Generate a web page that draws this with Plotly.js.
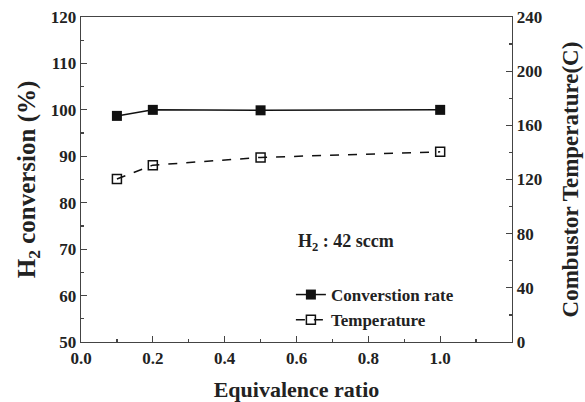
<!DOCTYPE html>
<html><head><meta charset="utf-8">
<script src="https://cdn.plot.ly/plotly-3.0.1.min.js"></script>
<style>html,body{margin:0;padding:0;background:#fff}#c{width:585px;height:402px}</style>
</head><body><div id="c"></div>
<script>
var ratio = [0.1, 0.2, 0.5, 1.0];
var conversion = [98.7, 100.0, 99.9, 100.0];
var temperature = [120.4, 130.6, 136.3, 140.4];
var seriesNames = ["Converstion rate", "Temperature"];
var xTicks = [0.0, 0.2, 0.4, 0.6, 0.8, 1.0];

var F = "Liberation Serif, Times New Roman, serif";
var traces = [
  {x: ratio, y: conversion, name: seriesNames[0], type: "scatter", mode: "lines+markers",
   line: {color: "#111", width: 1.5}, marker: {symbol: "square", size: 10, color: "#111"}},
  {x: ratio, y: temperature, name: seriesNames[1], type: "scatter", mode: "lines+markers", yaxis: "y2",
   line: {color: "#111", width: 1.5, dash: "dash"},
   marker: {symbol: "square-open", size: 9, color: "#111", line: {width: 1.5}}}
];
var axCommon = {showline: true, linecolor: "#444", linewidth: 1.3, ticks: "inside", ticklen: 6, tickwidth: 1.2,
  tickcolor: "#444", showgrid: false, zeroline: false, tickfont: {family: F, size: 17, color: "#222", weight: "bold"}};
var layout = {
  width: 585, height: 402,
  margin: {l: 81, r: 73, t: 17, b: 60},
  paper_bgcolor: "#fff", plot_bgcolor: "#fff",
  font: {family: F, color: "#222", weight: "bold"},
  showlegend: true,
  legend: {x: 0.487, y: 0.2, xanchor: "left", yanchor: "top", bgcolor: "rgba(0,0,0,0)",
    font: {family: F, size: 17, color: "#222", weight: "bold"}, tracegroupgap: 0},
  xaxis: Object.assign({}, axCommon, {range: [0, 1.2], tickvals: xTicks, tickformat: ".1f", mirror: true,
    ticklabelstandoff: 0,
    minor: {ticks: "inside", ticklen: 3, dtick: 0.1, tickcolor: "#444"},
    title: {text: "Equivalence ratio", font: {family: F, size: 22, color: "#222", weight: "bold"}, standoff: 16}}),
  yaxis: Object.assign({}, axCommon, {range: [50, 120], dtick: 10,
    minor: {ticks: "inside", ticklen: 3, dtick: 5, tickcolor: "#444"},
    title: {text: "H<sub>2</sub> conversion (%)", font: {family: F, size: 25, color: "#222", weight: "bold"}, standoff: 8}}),
  yaxis2: Object.assign({}, axCommon, {range: [0, 240], dtick: 40, overlaying: "y", side: "right",
    minor: {ticks: "inside", ticklen: 3, dtick: 20, tickcolor: "#444"},
    title: {text: "Combustor Temperature(C)", font: {family: F, size: 23, color: "#222", weight: "bold"}, standoff: 20}}),
  annotations: [{xref: "paper", yref: "paper", x: 0.615, y: 0.305, xanchor: "center", yanchor: "middle",
    text: "H<sub>2</sub> : 42 sccm", showarrow: false, font: {family: F, size: 18, color: "#222", weight: "bold"}}]
};
Plotly.newPlot("c", traces, layout, {staticPlot: true, displayModeBar: false});
</script></body></html>
